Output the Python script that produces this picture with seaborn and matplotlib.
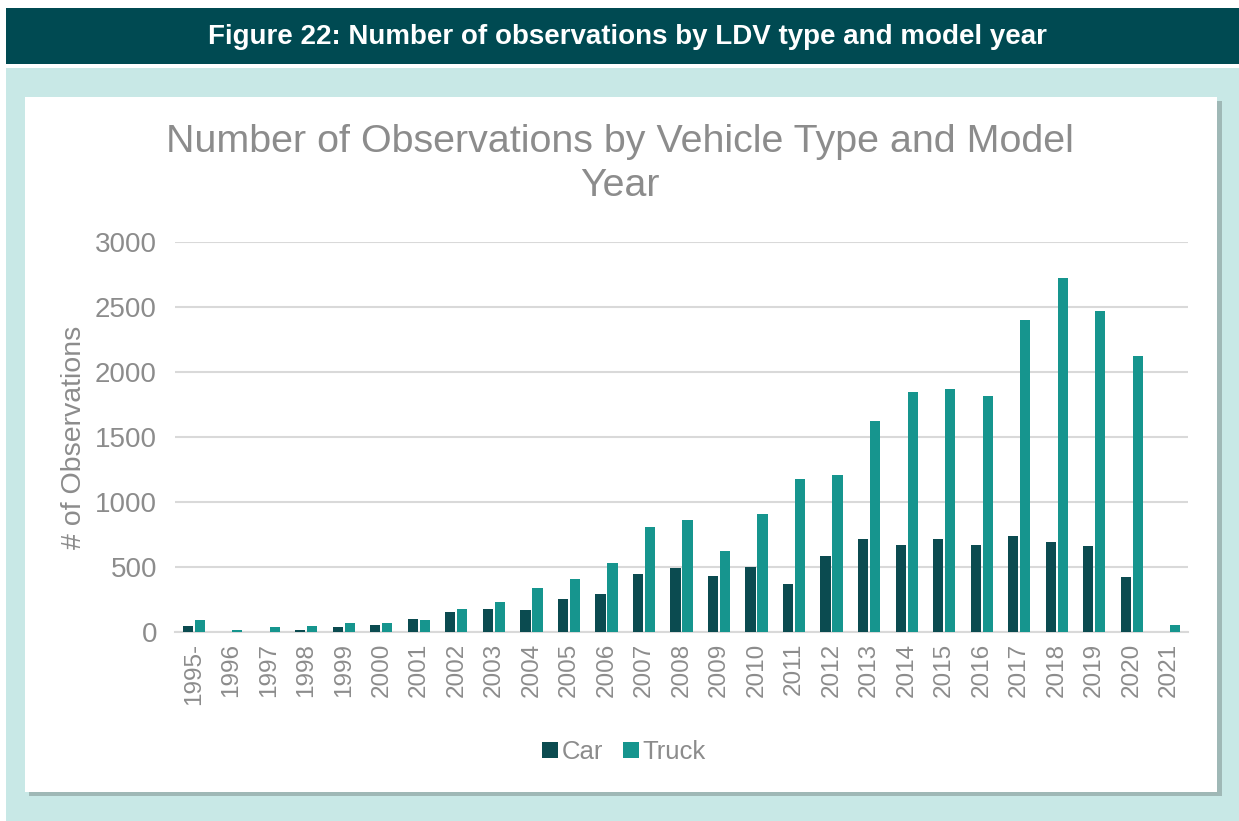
import matplotlib
matplotlib.use("Agg")
import matplotlib.pyplot as plt
from matplotlib.patches import Rectangle, Patch
import seaborn as sns
import pandas as pd

years = ["1995-", "1996", "1997", "1998", "1999", "2000", "2001", "2002", "2003",
         "2004", "2005", "2006", "2007", "2008", "2009", "2010", "2011", "2012",
         "2013", "2014", "2015", "2016", "2017", "2018", "2019", "2020", "2021"]
car = [49, 0, 0, 18, 36, 56, 103, 157, 177, 167, 254, 295, 449, 492, 428, 503,
       372, 587, 712, 672, 718, 673, 738, 695, 665, 424, 0]
truck = [90, 18, 36, 49, 72, 72, 90, 177, 231, 340, 405, 533, 808, 859, 623, 905,
         1176, 1208, 1623, 1846, 1866, 1814, 2398, 2722, 2472, 2126, 54]
series = ["Car", "Truck"]
colors = ["#0b4b50", "#16958e"]

df = pd.DataFrame({
    "year": years * 2,
    "value": car + truck,
    "type": [series[0]] * len(years) + [series[1]] * len(years),
})

sns.set_theme(style="white")
plt.rcParams["font.family"] = ["Liberation Sans", "DejaVu Sans"]

W, H = 1239, 821
fig = plt.figure(figsize=(W / 100, H / 100), dpi=100)
fig.patch.set_facecolor("white")

def frect(x0, y0, x1, y1, color, z=-10):
    fig.patches.append(Rectangle((x0 / W, 1 - y1 / H), (x1 - x0) / W, (y1 - y0) / H,
                                 transform=fig.transFigure, facecolor=color,
                                 edgecolor="none", zorder=z))

# header band and background
frect(6, 8, W, 64, "#004a52")
frect(6, 68, W, H, "#c8e8e6")
frect(29, 101, 1222, 796, "#9fb8b6")  # shadow
frect(25, 97, 1217, 792, "white")
fig.text(627 / W, 1 - 37 / H, "Figure 22: Number of observations by LDV type and model year",
         ha="center", va="center", color="white", fontsize=20, fontweight="bold")

ax = fig.add_axes([175 / W, 1 - 632 / H, (1188 - 175) / W, (632 - 242) / H])
ax.set_zorder(5)
ax.set_facecolor("none")
sns.barplot(data=df, x="year", y="value", hue="type", palette=colors, ax=ax,
            width=0.64, gap=0.15, legend=False, saturation=1, linewidth=0)
ax.set_ylim(0, 3000)
ax.set_xlim(-0.5, len(years) - 0.5)
ax.set_yticks([0, 500, 1000, 1500, 2000, 2500, 3000])
ax.yaxis.grid(True, color="#d9d9d9", linewidth=1.5, zorder=0)
ax.set_axisbelow(True)
for s in ["top", "right", "left"]:
    ax.spines[s].set_visible(False)
ax.spines["bottom"].set_color("#d9d9d9")
ax.spines["bottom"].set_linewidth(1.5)
ax.spines["bottom"].set_zorder(0.5)
ax.tick_params(axis="y", length=0, pad=13, labelsize=20, labelcolor="#8c8c8c")
ax.tick_params(axis="x", length=0, pad=8, labelsize=17.5, labelcolor="#8c8c8c", rotation=90)
ax.set_xlabel("")
ax.set_ylabel("# of Observations", fontsize=20.5, color="#8c8c8c")
ax.yaxis.set_label_coords((87 - 175) / (1188 - 175), 0.5)

fig.text(620 / W, 1 - 164 / H, "Number of Observations by Vehicle Type and Model\nYear",
         ha="center", va="center", color="#8c8c8c", fontsize=28.4, linespacing=1.25)

handles = [Patch(facecolor=c, edgecolor="none") for c in colors]
fig.legend(handles, series, loc="center", bbox_to_anchor=(624 / W, 1 - 752 / H),
           ncol=2, frameon=False, fontsize=18.5, labelcolor="#8c8c8c",
           handlelength=0.6, handleheight=0.6, handletextpad=0.15, columnspacing=0.8)

fig.savefig("out.png", dpi=100, facecolor=fig.get_facecolor())
